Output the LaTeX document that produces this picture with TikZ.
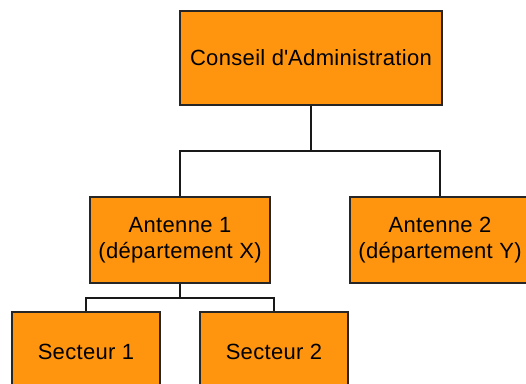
\documentclass[tikz,border=0pt]{standalone}
\usepackage{fontspec}
\setmainfont{Liberation Sans}[LetterSpace=1.5]
\definecolor{boxorange}{HTML}{FF950E}
\begin{document}
\begin{tikzpicture}[x=1pt,y=1pt,
  orgbox/.style={draw=black!85, line width=1.4pt, fill=boxorange, rectangle, inner sep=0pt,
    align=center, font=\fontsize{22}{26}\selectfont},
  link/.style={draw=black!90, line width=1.2pt}]
\path[use as bounding box, clip] (0,0) rectangle (526,383);
\node[orgbox, minimum width=262, minimum height=94] (top) at (311,325) {Conseil d\textquotesingle Administration};
\node[orgbox, minimum width=180, minimum height=86] (a1) at (180,143) {Antenne 1\\(département X)};
\node[orgbox, minimum width=180, minimum height=86] (a2) at (440,143) {Antenne 2\\(département Y)};
\node[orgbox, minimum width=148, minimum height=80] (s1) at (86,31) {Secteur 1};
\node[orgbox, minimum width=148, minimum height=80] (s2) at (274,31) {Secteur 2};
\coordinate (j1) at (311,232);
\coordinate (j2) at (180,85);
\draw[link] (top.south) -- (j1);
\draw[link] (a1.north) |- (j1) -| (a2.north);
\draw[link] (a1.south) -- (j2);
\draw[link] (s1.north) |- (j2) -| (s2.north);
\end{tikzpicture}
\end{document}
